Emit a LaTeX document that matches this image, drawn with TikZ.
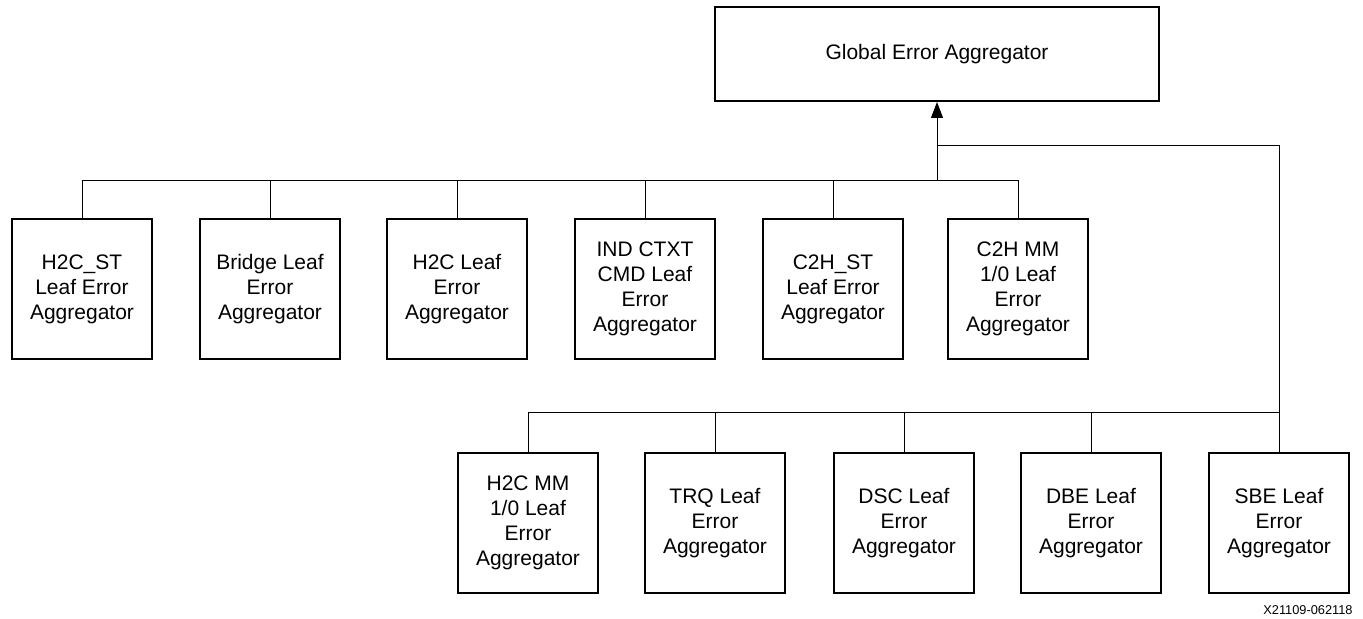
\documentclass[tikz,border=0pt]{standalone}
\usepackage{fontspec}
\setmainfont{Liberation Sans}
\usetikzlibrary{arrows.meta}

\tikzset{
	leaf/.style={draw, line width=1pt, minimum width=70pt, minimum height=70pt,
		inner sep=0pt, align=center, font=\fontsize{10.5}{12.5}\selectfont},
	global/.style={draw, line width=1pt, minimum width=222pt, minimum height=47pt,
		inner sep=0pt, font=\fontsize{10.5}{12.5}\selectfont},
	bus/.style={line width=0.5pt},
}

\begin{document}
\begin{tikzpicture}[x=0.5pt, y=-0.5pt]
		\useasboundingbox (0,0) rectangle (1363,619);

		% zeichne Global Error Aggregator
		\node[global] (gea) at (937,54) {Global Error Aggregator};

		% zeichne obere Reihe
		\node[leaf] (h2cst) at (82,289) {H2C\_ST\\Leaf Error\\Aggregator};
		\node[leaf] (bridge) at (270,289) {Bridge Leaf\\Error\\Aggregator};
		\node[leaf] (h2c) at (457,289) {H2C Leaf\\Error\\Aggregator};
		\node[leaf] (indctxt) at (645,289) {IND CTXT\\CMD Leaf\\Error\\Aggregator};
		\node[leaf] (c2hst) at (833,289) {C2H\_ST\\Leaf Error\\Aggregator};
		\node[leaf] (c2hmm) at (1018,289) {C2H MM\\1/0 Leaf\\Error\\Aggregator};

		% zeichne untere Reihe
		\node[leaf] (h2cmm) at (528,523) {H2C MM\\1/0 Leaf\\Error\\Aggregator};
		\node[leaf] (trq) at (715,523) {TRQ Leaf\\Error\\Aggregator};
		\node[leaf] (dsc) at (904,523) {DSC Leaf\\Error\\Aggregator};
		\node[leaf] (dbe) at (1091,523) {DBE Leaf\\Error\\Aggregator};
		\node[leaf] (sbe) at (1279,523) {SBE Leaf\\Error\\Aggregator};

		% Knotenpunkte der Leitungen
		\coordinate (topbus) at (937,181);
		\coordinate (branch) at (937,146);
		\coordinate (lowbus) at (1279,413);

		% zeichne obere Leitung
		\draw[bus] (h2cst.north) -- (h2cst.north |- topbus) -- (c2hmm.north |- topbus) -- (c2hmm.north);
		\draw[bus] (bridge.north) -- (bridge.north |- topbus);
		\draw[bus] (h2c.north) -- (h2c.north |- topbus);
		\draw[bus] (indctxt.north) -- (indctxt.north |- topbus);
		\draw[bus] (c2hst.north) -- (c2hst.north |- topbus);
		\draw[bus, -{Triangle[length=8pt, width=6pt]}] (topbus) -- (gea.south);

		% zeichne untere Leitung
		\draw[bus] (branch) -| (sbe.north);
		\draw[bus] (h2cmm.north) |- (lowbus);
		\draw[bus] (trq.north) -- (trq.north |- lowbus);
		\draw[bus] (dsc.north) -- (dsc.north |- lowbus);
		\draw[bus] (dbe.north) -- (dbe.north |- lowbus);

		% Bildnummer
		\node[anchor=east, inner sep=0pt, font=\fontsize{6.4}{7}\selectfont] (fignum) at (1353,610) {X21109-062118};
\end{tikzpicture}
\end{document}
